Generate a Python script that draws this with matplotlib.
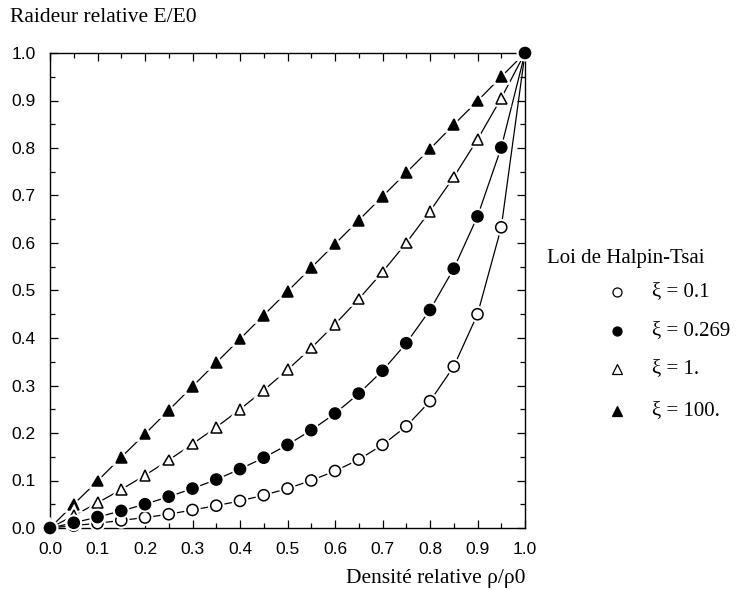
import matplotlib
matplotlib.use("Agg")
import matplotlib.pyplot as plt
import matplotlib.patheffects as pe
from matplotlib.lines import Line2D
from matplotlib.ticker import MultipleLocator, FormatStrFormatter

# Relative density rho/rho0
density = [0.0, 0.05, 0.10, 0.15, 0.20, 0.25, 0.30, 0.35, 0.40, 0.45, 0.50,
           0.55, 0.60, 0.65, 0.70, 0.75, 0.80, 0.85, 0.90, 0.95, 1.0]

# Relative stiffness E/E0 for each shape factor xi
stiff_xi_0_1 = [0.0, 0.005, 0.010, 0.016, 0.022, 0.029, 0.038, 0.047, 0.057, 0.069, 0.083,
                0.100, 0.120, 0.144, 0.175, 0.214, 0.267, 0.340, 0.450, 0.633, 1.0]
stiff_xi_0_269 = [0.0, 0.011, 0.023, 0.036, 0.050, 0.066, 0.083, 0.102, 0.124, 0.148, 0.175,
                  0.206, 0.241, 0.283, 0.331, 0.389, 0.459, 0.546, 0.656, 0.801, 1.0]
stiff_xi_1 = [0.0, 0.026, 0.053, 0.081, 0.111, 0.143, 0.177, 0.212, 0.250, 0.290, 0.333,
              0.379, 0.429, 0.482, 0.539, 0.600, 0.667, 0.739, 0.818, 0.905, 1.0]
stiff_xi_100 = [0.0, 0.050, 0.099, 0.149, 0.198, 0.248, 0.298, 0.348, 0.398, 0.448, 0.498,
                0.548, 0.598, 0.648, 0.698, 0.748, 0.798, 0.849, 0.899, 0.950, 1.0]

legend_title = "Loi de Halpin-Tsai"
series_labels = ["ξ = 0.1", "ξ = 0.269", "ξ = 1.", "ξ = 100."]

serif = ["Liberation Serif", "DejaVu Serif"]
sans = ["Liberation Sans", "DejaVu Sans"]

fig = plt.figure(figsize=(7.56, 5.90), dpi=100)
ax = fig.add_axes([50 / 756, 62 / 590, 475 / 756, 475 / 590])

# marker style per series: (values, marker, facecolor)
series = [
    (stiff_xi_100, "^", "black"),
    (stiff_xi_1, "^", "white"),
    (stiff_xi_0_1, "o", "white"),
    (stiff_xi_0_269, "o", "black"),
]

halo = [pe.withStroke(linewidth=4, foreground="white")]
for z, (vals, mk, fc) in enumerate(series):
    ax.plot(density, vals, color="black", lw=0.9, zorder=2 + z * 0.1,
            solid_capstyle="butt")
for z, (vals, mk, fc) in enumerate(series):
    ms = 8 if mk == "o" else 7.8
    ax.plot(density, vals, linestyle="none", marker=mk, ms=ms,
            markerfacecolor=fc, markeredgecolor="black", markeredgewidth=1.1,
            path_effects=halo, zorder=3 + z * 0.1, clip_on=False)

ax.set_xlim(0, 1)
ax.set_ylim(0, 1)
ax.xaxis.set_major_locator(MultipleLocator(0.1))
ax.xaxis.set_minor_locator(MultipleLocator(0.05))
ax.yaxis.set_major_locator(MultipleLocator(0.1))
ax.yaxis.set_minor_locator(MultipleLocator(0.05))
ax.tick_params(which="both", direction="in", top=True, right=True,
               width=0.9, color="black")
ax.tick_params(which="major", length=6, labelsize=12.5)
ax.tick_params(which="minor", length=3.5)
ax.tick_params(axis="x", which="major", pad=10)
ax.tick_params(axis="y", which="major", pad=10.5)
ax.xaxis.set_major_formatter(FormatStrFormatter("%.1f"))
ax.yaxis.set_major_formatter(FormatStrFormatter("%.1f"))
for lab in ax.get_xticklabels() + ax.get_yticklabels():
    lab.set_fontfamily(sans)
for sp in ax.spines.values():
    sp.set_linewidth(1.0)
    sp.set_color("black")

fig.text(10 / 756, 1 - 18 / 590, "Raideur relative E/E0", family=serif,
         fontsize=15.5, ha="left", va="center")
fig.text(526 / 756, 1 - 578 / 590, "Densité relative ρ/ρ0", family=serif,
         fontsize=15.5, ha="right", va="center")

# legend block
fig.text(547 / 756, 1 - 258 / 590, legend_title, family=serif, fontsize=15,
         ha="left", va="center")
leg_y = [292, 331, 369, 411]
leg_style = [("o", "white"), ("o", "black"), ("^", "white"), ("^", "black")]
for y, lab, (mk, fc) in zip(leg_y, series_labels, leg_style):
    fy = 1 - y / 590
    fig.add_artist(Line2D([617 / 756], [fy], transform=fig.transFigure,
                          linestyle="none", marker=mk, ms=6.5,
                          markerfacecolor=fc, markeredgecolor="black",
                          markeredgewidth=0.9))
    fig.text(652 / 756, fy, lab, family=serif, fontsize=15,
             ha="left", va="center")

fig.savefig("out.png", dpi=100)
